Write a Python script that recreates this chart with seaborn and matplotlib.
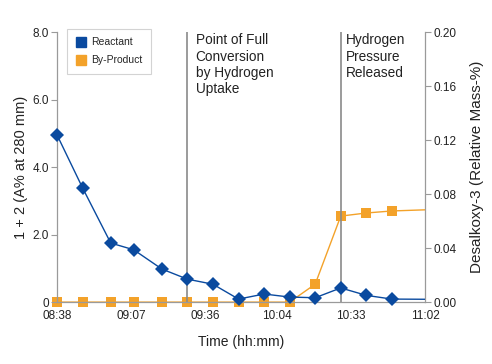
import pandas as pd
import numpy as np
import matplotlib.pyplot as plt
import matplotlib.dates as mdates
from matplotlib.lines import Line2D
from matplotlib.patches import Rectangle
import seaborn as sns

sns.set_style('white')
plt.rcParams['font.family'] = ['Liberation Sans', 'DejaVu Sans']

# data
times = ['08:38', '08:48', '08:59', '09:08', '09:19', '09:29', '09:39', '09:49',
         '09:59', '10:09', '10:19', '10:29', '10:39', '10:49', '11:12']
reactant = [4.95, 3.38, 1.75, 1.55, 0.98, 0.68, 0.53, 0.09,
            0.24, 0.15, 0.13, 0.42, 0.20, 0.09, 0.08]
by_product = [0.0, 0.0, 0.0, 0.0, 0.0, 0.0, 0.0, 0.0,
              0.0, 0.0, 0.0133, 0.0637, 0.066, 0.0675, 0.069]
tick_times = ['08:38', '09:07', '09:36', '10:04', '10:33', '11:02']
events = ['09:29', '10:29']
event_labels = ['Point of Full\nConversion\nby Hydrogen\nUptake',
                'Hydrogen\nPressure\nReleased']

blue = '#0a4a9f'
orange = '#f3a22a'
grey = '#9a9a9a'
txt = '#222222'

day = '2020-01-01 '
df = pd.DataFrame({
    'time': pd.to_datetime([day + t for t in times]),
    'reactant': reactant,
    'by_product': by_product,
})
ticks = pd.to_datetime([day + t for t in tick_times])

fig = plt.figure(figsize=(4.92, 3.64), dpi=100)
ax = fig.add_axes([0.116, 0.170, 0.748, 0.742])
ax2 = ax.twinx()

sns.lineplot(data=df, x='time', y='by_product', ax=ax2, color=orange, marker='s',
             markersize=6.5, markeredgewidth=0, linewidth=1.0, zorder=3)
sns.lineplot(data=df, x='time', y='reactant', ax=ax, color=blue, marker='D',
             markersize=7.5, markeredgewidth=0, linewidth=1.0, zorder=3)

# let the markers sitting on the baseline show in full, but still clip at the right edge
for a in (ax, ax2):
    clip = Rectangle((-0.05, -0.05), 1.05, 1.1, transform=a.transAxes)
    for ln in a.lines:
        ln.set_clip_path(clip)

# put the left axes (reactant) on top so blue sits above orange
ax.set_zorder(ax2.get_zorder() + 1)
ax.patch.set_visible(False)

ax.set_xlim(ticks[0], ticks[-1])
ax.set_ylim(0, 8)
ax2.set_ylim(0, 0.2)
ax.set_xticks(ticks)
ax.set_xticklabels(tick_times)
ax.set_yticks([0, 2, 4, 6, 8])
ax.set_yticklabels(['0', '2.0', '4.0', '6.0', '8.0'])
ax2.set_yticks([0, 0.04, 0.08, 0.12, 0.16, 0.20])
ax2.set_yticklabels(['0.00', '0.04', '0.08', '0.12', '0.16', '0.20'])

for a in (ax, ax2):
    a.spines['top'].set_visible(False)
    for side in ['left', 'right', 'bottom']:
        a.spines[side].set_color(grey)
        a.spines[side].set_linewidth(0.9)
    a.tick_params(axis='both', labelsize=8.5, colors=grey, labelcolor=txt,
                  length=4, width=0.8, direction='out', pad=2)
ax2.spines['left'].set_visible(False)
ax2.spines['bottom'].set_visible(False)
ax.spines['right'].set_visible(False)

ax.set_xlabel('Time (hh:mm)', fontsize=10, color=txt, labelpad=9)
ax.set_ylabel('1 + 2 (A% at 280 mm)', fontsize=10.5, color=txt, labelpad=3)
ax2.set_ylabel('Desalkoxy-3 (Relative Mass-%)', fontsize=11, color=txt, labelpad=10)

for t, lab, dx in zip(events, event_labels, [6, 4]):
    x = pd.to_datetime(day + t)
    ax.axvline(x, color='#8a8a8a', linewidth=1.2, zorder=1)
    ax.annotate(lab, (mdates.date2num(x), 8), xytext=(dx, -1), textcoords='offset points',
                fontsize=9.8, va='top', ha='left', color=txt, linespacing=1.2)

handles = [Line2D([], [], marker='s', color=blue, linestyle='none', markersize=6.5),
           Line2D([], [], marker='s', color=orange, linestyle='none', markersize=6.5)]
leg = ax.legend(handles, ['Reactant', 'By-Product'], loc='upper left',
                bbox_to_anchor=(0.013, 1.03), fontsize=7.5, frameon=True,
                fancybox=False, handletextpad=0.5, borderpad=0.8, labelspacing=0.75,
                handlelength=1.0)
leg.get_frame().set_edgecolor('#c8c8c8')
leg.get_frame().set_linewidth(0.8)

fig.savefig('out.png', dpi=100)
